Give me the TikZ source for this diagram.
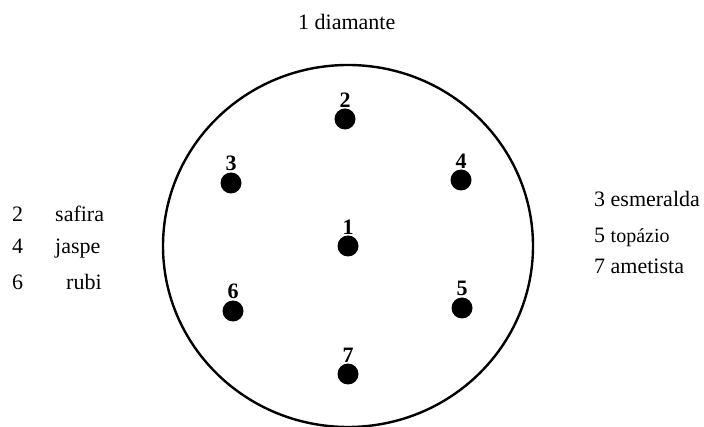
\documentclass[tikz,border=0pt]{standalone}
\usepackage{fontspec}
\setmainfont{Liberation Serif}
\usetikzlibrary{positioning}

\begin{document}
\begin{tikzpicture}[
    x=1pt, y=-1pt,
    dot/.style={
        circle,
        fill=black,
        minimum size=21pt,
        inner sep=0pt
    },
    dotnum/.style={font=\fontsize{22}{22}\selectfont\bfseries, inner sep=0pt, label distance=1pt},
    gem/.style={anchor=base west, inner sep=0pt, font=\fontsize{22}{24}\selectfont},
    ring/.style={draw, line width=2.4pt}
]
\useasboundingbox (0,0) rectangle (704,427);

% the plate
\draw[ring] (348,246) ellipse [x radius=185, y radius=181];

% stones on the plate
\node[dot, label={[dotnum]above:1}] (d1) at (348,246) {};
\node[dot, label={[dotnum]above:2}] (d2) at (345,119) {};
\node[dot, label={[dotnum]above:3}] (d3) at (231,183) {};
\node[dot, label={[dotnum]above:4}] (d4) at (461,180) {};
\node[dot, label={[dotnum]above:5}] (d5) at (462,308) {};
\node[dot, label={[dotnum]above:6}] (d6) at (233,311) {};
\node[dot, label={[dotnum]above:7}] (d7) at (348,374) {};

% key
\node[gem] (k1) at (298,30) {1 diamante};

\node[gem] (k2n) at (12,222) {2};
\node[gem] (k2) at (55,222) {safira};
\node[gem] (k4n) at (12,254) {4};
\node[gem] (k4) at (55,254) {jaspe};
\node[gem] (k6n) at (12,290) {6};
\node[gem] (k6) at (66,290) {rubi};

\node[gem] (k3) at (594,207) {3 esmeralda};
\node[gem] (k5) at (594,243) {5 {\fontsize{20}{22}\selectfont topázio}};
\node[gem] (k7) at (594,274) {7 ametista};

\end{tikzpicture}
\end{document}
